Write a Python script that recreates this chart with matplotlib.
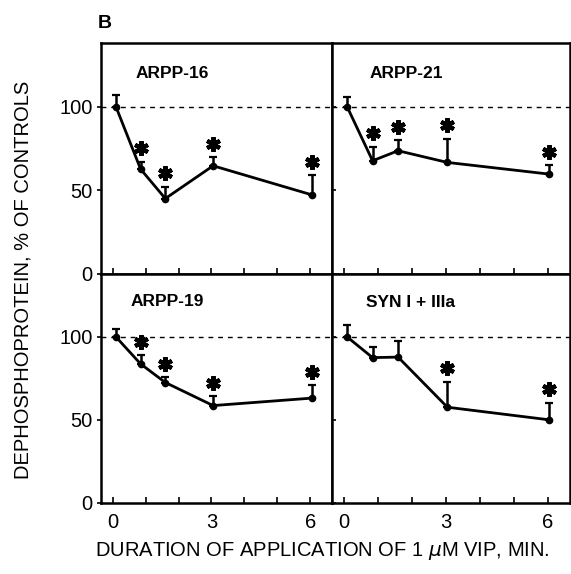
"""
Dephosphoprotein time course after VIP application (panel B)
"""
import matplotlib
matplotlib.use('Agg')
import matplotlib.pyplot as plt
import numpy as np

plt.rcParams['font.family'] = ['Liberation Sans', 'DejaVu Sans']

# sampling times (min)
times = [0.1, 0.85, 1.6, 3.05, 6.05]

panel_names = ['ARPP-16', 'ARPP-21', 'ARPP-19', 'SYN I + IIIa']

arpp16_mean = [100, 62.6, 45, 64.6, 47.2]
arpp16_sem = [7.2, 4.4, 7, 5, 11.8]
arpp16_sig = [0, 1, 1, 1, 1]

arpp21_mean = [100, 67.6, 73.6, 66.6, 59.6]
arpp21_sem = [6, 8.4, 6.4, 14.2, 5.4]
arpp21_sig = [0, 1, 1, 1, 1]

arpp19_mean = [100, 83.7, 72.5, 58.6, 63.1]
arpp19_sem = [5, 5.3, 3.4, 5.7, 8]
arpp19_sig = [0, 1, 1, 1, 1]

syn_mean = [100, 87.5, 87.8, 57.6, 50]
syn_sem = [7.2, 6.3, 9.8, 15.5, 10.4]
syn_sig = [0, 0, 0, 1, 1]

means = [arpp16_mean, arpp21_mean, arpp19_mean, syn_mean]
sems = [arpp16_sem, arpp21_sem, arpp19_sem, syn_sem]
sigs = [arpp16_sig, arpp21_sig, arpp19_sig, syn_sig]

x_ticks = [0, 1, 2, 3, 4, 5, 6]
x_ticklabels = ['0', '', '', '3', '', '', '6']
y_ticks = [0, 50, 100]

fig = plt.figure(figsize=(5.71, 5.74), dpi=100)

left, mid, right = 0.177, 0.581, 0.998
bottom, center, top = 0.124, 0.523, 0.925
boxes = [
    [left, center, mid - left, top - center],
    [mid, center, right - mid, top - center],
    [left, bottom, mid - left, center - bottom],
    [mid, bottom, right - mid, center - bottom],
]
label_pos = [(0.15, 0.85), (0.16, 0.85), (0.13, 0.86), (0.145, 0.856)]

for idx, box in enumerate(boxes):
    ax = fig.add_axes(box)
    m = np.array(means[idx])
    s = np.array(sems[idx])
    sig = np.array(sigs[idx], dtype=bool)
    t = np.array(times)

    ax.axhline(100, color='black', linestyle=(0, (3.5, 3.5)), linewidth=1.0)
    ax.errorbar(t, m, yerr=[np.zeros_like(s), s], fmt='none', ecolor='black',
                elinewidth=1.8, capsize=3, capthick=1.6)
    ax.plot(t, m, color='black', linewidth=2.0, marker='o', markersize=4.5)
    ax.plot(t[sig], (m + s)[sig] + 8, linestyle='none', marker=(6, 2, 0),
            markersize=10.5, markeredgewidth=3.0, color='black')

    ax.text(label_pos[idx][0], label_pos[idx][1], panel_names[idx],
            transform=ax.transAxes, fontsize=12.5, fontweight='bold')

    ax.set_xlim(-0.35, 6.65)
    ax.set_ylim(0, 138)
    ax.set_xticks(x_ticks)
    ax.set_yticks(y_ticks)
    for sp in ax.spines.values():
        sp.set_linewidth(1.8)

    ax.tick_params(axis='x', direction='in', length=4, width=1.2, pad=7,
                   labelsize=14.5)
    if idx >= 2:
        ax.set_xticklabels(x_ticklabels)
    else:
        ax.set_xticklabels([])

    if idx % 2 == 0:
        ax.tick_params(axis='y', direction='out', length=3, width=1.2, pad=3,
                       labelsize=14.5)
    else:
        ax.tick_params(axis='y', direction='in', length=3, width=1.2,
                       labelleft=False)

fig.text(0.172, 0.951, 'B', fontsize=14, fontweight='bold')
fig.text(0.040, 0.512, 'DEPHOSPHOPROTEIN, % OF CONTROLS', rotation=90,
         ha='center', va='center', fontsize=14.5)
fig.text(0.565, 0.040, r'DURATION OF APPLICATION OF 1 $\mu$M VIP, MIN.',
         ha='center', va='center', fontsize=14.5)

plt.savefig('out.png', dpi=100)
